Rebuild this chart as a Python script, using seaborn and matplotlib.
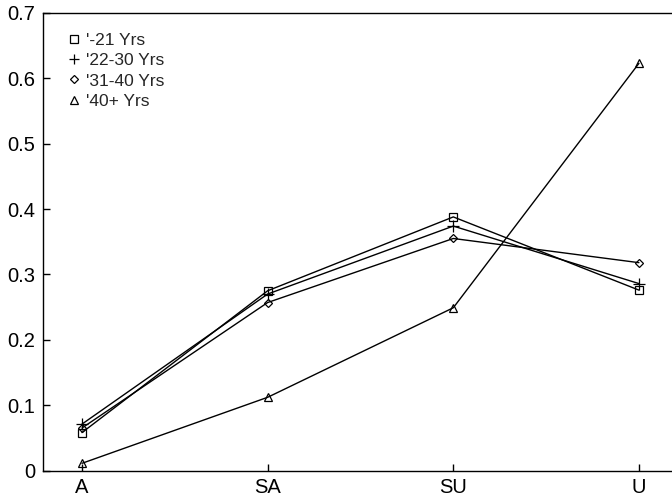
import matplotlib
matplotlib.use("Agg")
import matplotlib.pyplot as plt
import seaborn as sns
import pandas as pd
from matplotlib.lines import Line2D

categories = ["A", "SA", "SU", "U"]
series_names = ["'-21 Yrs", "'22-30 Yrs", "'31-40 Yrs", "'40+ Yrs"]
vals_21 = [0.058, 0.275, 0.388, 0.276]
vals_22_30 = [0.071, 0.270, 0.374, 0.286]
vals_31_40 = [0.065, 0.257, 0.355, 0.318]
vals_40p = [0.011, 0.112, 0.249, 0.623]
yticks = [0, 0.1, 0.2, 0.3, 0.4, 0.5, 0.6, 0.7]
ytick_labels = ["0", "0.1", "0.2", "0.3", "0.4", "0.5", "0.6", "0.7"]

sns.set_style("white")
plt.rcParams["font.family"] = ["Liberation Sans", "DejaVu Sans"]

fig = plt.figure(figsize=(6.72, 4.98), dpi=100)
ax = fig.add_axes([43 / 672, 1 - 470.5 / 498, 1 - 43 / 672, (470.5 - 13) / 498])

marker_list = ["s", "+", "D", "^"]
size_list = [6, 8, 4.5, 6]
leg_size_list = [5.5, 7, 4.2, 5.5]
handles = []
for name, vals, m, ms, lms in zip(series_names, [vals_21, vals_22_30, vals_31_40, vals_40p],
                                  marker_list, size_list, leg_size_list):
    d = pd.DataFrame({"pos": list(range(len(categories))), "value": vals})
    sns.lineplot(data=d, x="pos", y="value", ax=ax, color="black", linewidth=1.0,
                 marker=m, markersize=ms, markerfacecolor="none",
                 markeredgecolor="black", markeredgewidth=0.9)
    handles.append(Line2D([], [], linestyle="none", marker=m, markersize=lms,
                          markerfacecolor="none", markeredgecolor="black",
                          markeredgewidth=0.9))

ax.set_xlim(-0.21, 3.178)
ax.set_ylim(0, 0.7)
ax.set_xticks(range(len(categories)))
ax.set_xticklabels(categories)
ax.set_yticks(yticks)
ax.set_yticklabels(ytick_labels)
ax.set_xlabel("")
ax.set_ylabel("")
ax.tick_params(direction="in", length=5, width=1, labelsize=14.5, colors="black",
               bottom=True, left=True)
ax.tick_params(axis="y", pad=5.5)
ax.tick_params(axis="x", pad=5.5)
ax.spines["right"].set_visible(False)
for s in ["left", "bottom", "top"]:
    ax.spines[s].set_color("black")
    ax.spines[s].set_linewidth(1.0)

ax.legend(handles, series_names, loc="upper left", bbox_to_anchor=(0.038, 0.957),
          frameon=False, fontsize=12.5, handlelength=0.8, handletextpad=0.3,
          labelspacing=0.3, borderaxespad=0, borderpad=0)

fig.savefig("out.png", dpi=100)
